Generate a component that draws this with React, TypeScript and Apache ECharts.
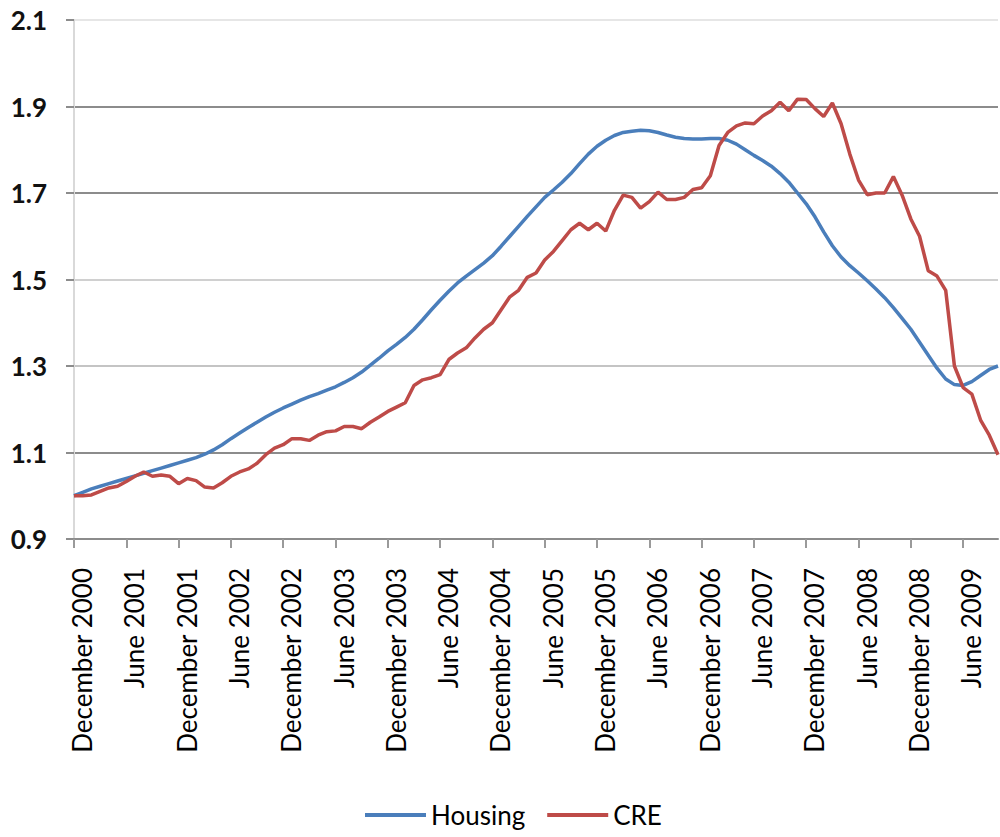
import React, { useEffect, useRef } from "react";
import * as echarts from "echarts";

const monthNames = [
  "January", "February", "March", "April", "May", "June",
  "July", "August", "September", "October", "November", "December",
];

// Monthly categories: December 2000 .. October 2009
const categories: string[] = [];
for (let k = 0; k < 107; k++) {
  const m = (11 + k) % 12;
  const y = 2000 + Math.floor((11 + k) / 12);
  categories.push(`${monthNames[m]} ${y}`);
}

const housing = [
  1.000, 1.008, 1.016, 1.022, 1.028, 1.034, 1.040, 1.046, 1.052, 1.058,
  1.064, 1.070, 1.076, 1.082, 1.088, 1.096, 1.106, 1.118, 1.132, 1.145,
  1.158, 1.170, 1.182, 1.193, 1.203, 1.212, 1.221, 1.229, 1.236, 1.244,
  1.252, 1.262, 1.273, 1.286, 1.302, 1.318, 1.335, 1.350, 1.366, 1.385,
  1.407, 1.430, 1.452, 1.473, 1.492, 1.508, 1.523, 1.538, 1.555, 1.577,
  1.600, 1.623, 1.646, 1.668, 1.690, 1.707, 1.725, 1.745, 1.768, 1.790,
  1.808, 1.822, 1.833, 1.840, 1.843, 1.845, 1.844, 1.840, 1.834, 1.829,
  1.826, 1.825, 1.825, 1.826, 1.826, 1.822, 1.813, 1.800, 1.787, 1.775,
  1.762, 1.745, 1.725, 1.700, 1.675, 1.645, 1.610, 1.578, 1.552, 1.532,
  1.515, 1.497, 1.478, 1.458, 1.435, 1.410, 1.385, 1.355, 1.325, 1.295,
  1.270, 1.257, 1.255, 1.264, 1.278, 1.292, 1.300,
];

const cre = [
  1.000, 1.000, 1.002, 1.010, 1.018, 1.022, 1.033, 1.045, 1.055, 1.045,
  1.048, 1.045, 1.028, 1.040, 1.035, 1.020, 1.018, 1.030, 1.045, 1.055,
  1.062, 1.075, 1.095, 1.110, 1.118, 1.132, 1.132, 1.128, 1.140, 1.148,
  1.150, 1.160, 1.160, 1.155, 1.170, 1.182, 1.195, 1.205, 1.215, 1.255,
  1.268, 1.273, 1.280, 1.315, 1.330, 1.342, 1.365, 1.385, 1.400, 1.430,
  1.460, 1.475, 1.505, 1.515, 1.545, 1.565, 1.590, 1.615, 1.630, 1.615,
  1.630, 1.612, 1.660, 1.695, 1.690, 1.665, 1.680, 1.702, 1.685, 1.685,
  1.690, 1.708, 1.712, 1.740, 1.810, 1.840, 1.855, 1.862, 1.860, 1.878,
  1.890, 1.910, 1.890, 1.917, 1.916, 1.895, 1.877, 1.908, 1.860, 1.790,
  1.730, 1.696, 1.700, 1.700, 1.738, 1.695, 1.640, 1.600, 1.520, 1.508,
  1.475, 1.300, 1.250, 1.235, 1.175, 1.140, 1.095,
];

const yTicks = [0.9, 1.1, 1.3, 1.5, 1.7, 1.9, 2.1];

export default function App() {
  const ref = useRef<HTMLDivElement>(null);

  useEffect(() => {
    if (!ref.current) return;
    const chart = echarts.init(ref.current, undefined, { renderer: "svg" });
    chart.setOption({
      animation: false,
      backgroundColor: "#ffffff",
      grid: { left: 74, right: 2, top: 20, bottom: 298, containLabel: false },
      legend: {
        left: 360,
        top: 797,
        icon: "rect",
        itemWidth: 61,
        itemHeight: 4,
        itemGap: 22,
        textStyle: { fontFamily: "Lato", fontSize: 26, color: "#000" },
        data: ["Housing", "CRE"],
      },
      xAxis: {
        type: "category",
        data: categories,
        boundaryGap: false,
        axisLine: { show: true, lineStyle: { color: "#8c8c8c", width: 2 } },
        axisTick: {
          show: true,
          interval: 5,
          length: 9,
          lineStyle: { color: "#9a9a9a", width: 2 },
        },
        axisLabel: {
          interval: 5,
          rotate: 90,
          margin: 29,
          fontFamily: "Lato",
          fontSize: 26,
          color: "#000",
          verticalAlign: "top",
          lineHeight: 16,
        },
        splitLine: { show: false },
      },
      yAxis: {
        type: "value",
        min: yTicks[0],
        max: yTicks[yTicks.length - 1],
        interval: 0.2,
        axisLine: { show: true, lineStyle: { color: "#d9d9d9", width: 2 } },
        axisTick: { show: true, length: 8, lineStyle: { color: "#8c8c8c", width: 2 } },
        axisLabel: {
          margin: 27,
          fontFamily: "Lato",
          fontWeight: "bold",
          fontSize: 26,
          color: "#111",
          formatter: (v: number) => v.toFixed(1),
        },
        splitLine: {
          show: true,
          lineStyle: {
            width: 2,
            color: ["#8c8c8c", "#8c8c8c", "#c4c4c4", "#d0d0d0", "#8c8c8c", "#8c8c8c", "#e6e6e6"],
          },
        },
      },
      series: [
        {
          name: "Housing",
          type: "line",
          data: housing,
          showSymbol: false,
          symbol: "none",
          lineStyle: { color: "#4a7ebb", width: 3.5 },
          itemStyle: { color: "#4a7ebb" },
          z: 2,
        },
        {
          name: "CRE",
          type: "line",
          data: cre,
          showSymbol: false,
          symbol: "none",
          lineStyle: { color: "#be4b48", width: 3.5 },
          itemStyle: { color: "#be4b48" },
          z: 3,
        },
      ],
    });
    return () => chart.dispose();
  }, []);

  return (
    <div
      ref={ref}
      style={{ position: "fixed", left: 0, top: 0, width: 1000, height: 837 }}
    />
  );
}
